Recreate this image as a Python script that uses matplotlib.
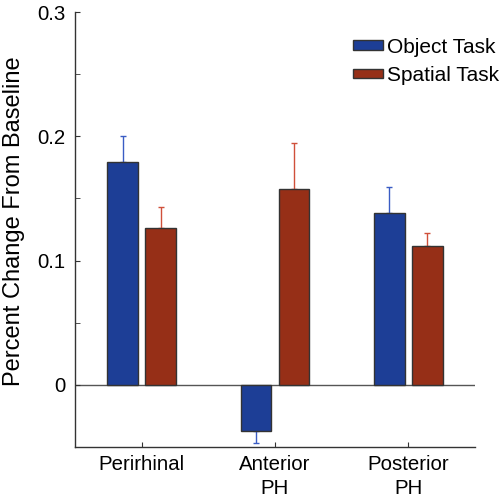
import numpy as np
import matplotlib
matplotlib.use("Agg")
import matplotlib.pyplot as plt
from matplotlib.patches import Rectangle

plt.rcParams['font.family'] = ['Liberation Sans', 'DejaVu Sans']

# data
regions = ['Perirhinal', 'Anterior\nPH', 'Posterior\nPH']
object_mean = [0.179, -0.037, 0.138]
object_err = [0.021, 0.010, 0.021]
spatial_mean = [0.126, 0.158, 0.112]
spatial_err = [0.017, 0.037, 0.010]

blue = '#1d3e96'
red = '#962f17'
blue_err = '#3a5cc4'
red_err = '#d0503a'
edge = '#333333'

fig = plt.figure(figsize=(5, 5.01), dpi=100)
ax = fig.add_axes([0.15, 0.1078, 0.80, 0.868])

x = np.arange(1, len(regions) + 1)
off = 0.143
w = 0.23

ax.bar(x - off, object_mean, w, color=blue, edgecolor=edge, linewidth=1, zorder=3)
ax.bar(x + off, spatial_mean, w, color=red, edgecolor=edge, linewidth=1, zorder=3)

# one-sided error bars (away from zero)
def one_sided(means, errs):
    lo = [e if m < 0 else 0 for m, e in zip(means, errs)]
    hi = [e if m >= 0 else 0 for m, e in zip(means, errs)]
    return [lo, hi]

ax.errorbar(x - off, object_mean, yerr=one_sided(object_mean, object_err),
            fmt='none', ecolor=blue_err, elinewidth=1, capsize=2.3, capthick=1, zorder=2)
ax.errorbar(x + off, spatial_mean, yerr=one_sided(spatial_mean, spatial_err),
            fmt='none', ecolor=red_err, elinewidth=1, capsize=2.3, capthick=1, zorder=2)

ax.axhline(0, color='#555555', linewidth=1, zorder=1)

ax.set_xlim(0.5, 3.5)
ax.set_ylim(-0.05, 0.3)
ax.set_yticks([0, 0.1, 0.2, 0.3])
ax.set_yticklabels(['0', '0.1', '0.2', '0.3'])
ax.set_yticks([-0.05, 0.05, 0.15, 0.25], minor=True)
ax.set_xticks(x)
ax.set_xticklabels(regions, linespacing=1.3)

ax.spines['top'].set_visible(False)
ax.spines['right'].set_visible(False)
for s in ['left', 'bottom']:
    ax.spines[s].set_color('#333333')
    ax.spines[s].set_linewidth(1)

ax.tick_params(axis='both', which='both', direction='in', color='#333333')
ax.tick_params(axis='y', which='major', length=3.5, labelsize=14.7, pad=7)
ax.tick_params(axis='y', which='minor', length=3.5)
ax.tick_params(axis='x', which='major', length=3.5, labelsize=14.7, pad=6)

ax.set_ylabel('Percent Change From Baseline', fontsize=17)
ax.yaxis.set_label_coords(-0.125, 0.52)

handles = [Rectangle((0, 0), 1, 1, facecolor=blue, edgecolor=edge, linewidth=1),
           Rectangle((0, 0), 1, 1, facecolor=red, edgecolor=edge, linewidth=1)]
fig.legend(handles, ['Object Task', 'Spatial Task'], loc='upper left',
           bbox_to_anchor=(0.706, 0.925), frameon=False, fontsize=15,
           handlelength=1.45, handleheight=0.35, handletextpad=0.2,
           labelspacing=0.45, borderpad=0, borderaxespad=0)

fig.savefig('out.png', dpi=100)
